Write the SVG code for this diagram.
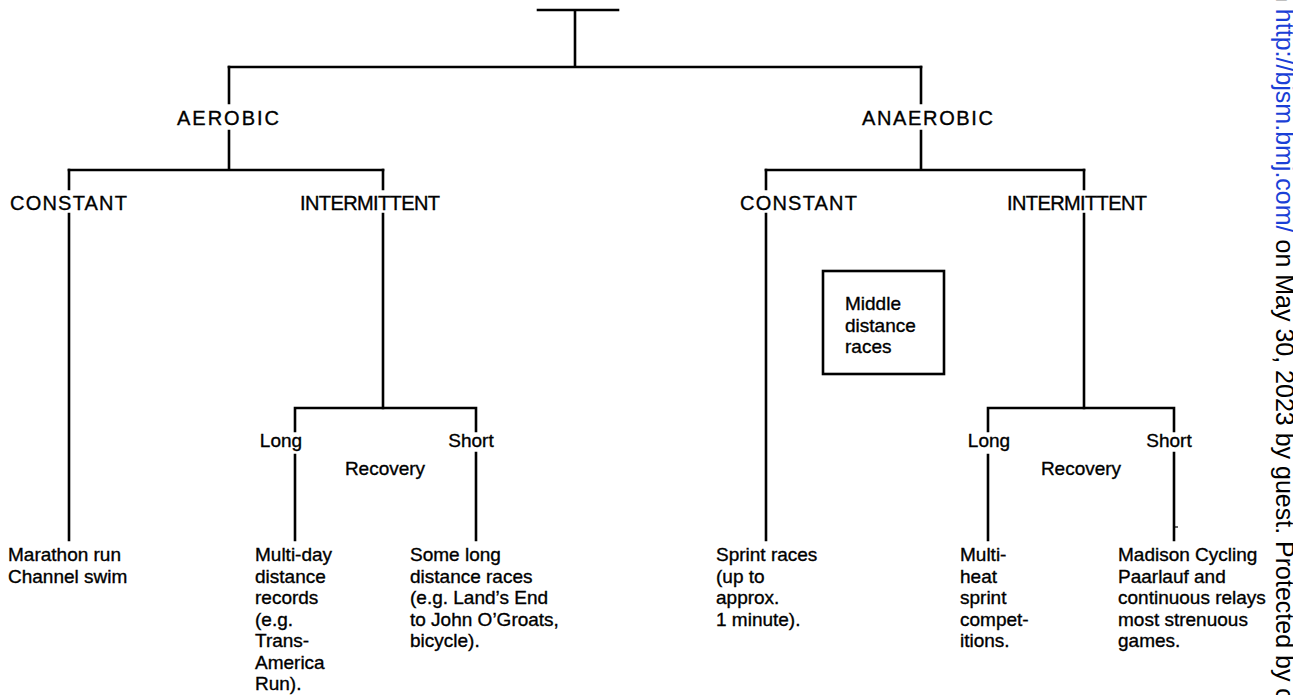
<svg xmlns="http://www.w3.org/2000/svg" width="1293" height="695" viewBox="0 0 1293 695">
<style>
.ln{stroke:#000;stroke-width:2.6;fill:none;stroke-linecap:square}
.hd{font-family:"Liberation Sans",Arial,sans-serif;font-size:20px;fill:#000;stroke:#000;stroke-width:0.35}
.sub{font-family:"Liberation Sans",Arial,sans-serif;font-size:19px;fill:#000;stroke:#000;stroke-width:0.35}
.tx{font-family:"Liberation Sans",Arial,sans-serif;font-size:19px;fill:#000;stroke:#000;stroke-width:0.35}
.wm{font-family:"Liberation Sans",Arial,sans-serif;font-size:25px;fill:#000}
</style>
<rect width="1293" height="695" fill="#fff"/>
<g id="connectors">
<path class="ln" d="M538 10H618M575 10V67M229 67H921"/>
<path class="ln" d="M229 67V103M229 131V170M69 170H383"/>
<path class="ln" d="M69 170V189M69 214V540M383 170V189M383 214V408"/>
<path class="ln" d="M295 408H476M295 408V431M295 455V540M476 408V431M476 453V540"/>
<path class="ln" d="M921 67V103M921 131V170M766 170H1084"/>
<path class="ln" d="M766 170V189M766 214V540M1084 170V189M1084 214V408"/>
<path class="ln" d="M988 408H1174M988 408V431M988 455V540M1174 408V431M1174 453V540"/>
<path d="M1174 527H1178" stroke="#000" stroke-width="1.2"/>
</g>
<g id="aerobic"><text class="hd" x="177" y="125" textLength="102" lengthAdjust="spacing">AEROBIC</text></g>
<g id="anaerobic"><text class="hd" x="862" y="125" textLength="131" lengthAdjust="spacing">ANAEROBIC</text></g>
<g id="aer-constant"><text class="hd" x="10" y="210" textLength="117" lengthAdjust="spacing">CONSTANT</text></g>
<g id="aer-intermittent"><text class="hd" x="300" y="210" textLength="140" lengthAdjust="spacing">INTERMITTENT</text></g>
<g id="ana-constant"><text class="hd" x="740" y="210" textLength="117" lengthAdjust="spacing">CONSTANT</text></g>
<g id="ana-intermittent"><text class="hd" x="1007" y="210" textLength="140" lengthAdjust="spacing">INTERMITTENT</text></g>
<g id="aer-long"><text class="sub" x="281" y="447" text-anchor="middle">Long</text></g>
<g id="aer-short"><text class="sub" x="471" y="447" text-anchor="middle">Short</text></g>
<g id="aer-recovery"><text class="sub" x="385" y="475" text-anchor="middle">Recovery</text></g>
<g id="ana-long"><text class="sub" x="989" y="447" text-anchor="middle">Long</text></g>
<g id="ana-short"><text class="sub" x="1169" y="447" text-anchor="middle">Short</text></g>
<g id="ana-recovery"><text class="sub" x="1081" y="475" text-anchor="middle">Recovery</text></g>
<g id="middle-box">
<rect x="823" y="271" width="121" height="103" fill="none" stroke="#000" stroke-width="2.6"/>
<text class="tx" x="845" y="310">Middle</text>
<text class="tx" x="845" y="332">distance</text>
<text class="tx" x="845" y="353">races</text>
</g>
<g id="marathon">
<text class="tx" x="8" y="561">Marathon run</text>
<text class="tx" x="8" y="583">Channel swim</text>
</g>
<g id="multiday">
<text class="tx" x="255" y="561">Multi-day</text>
<text class="tx" x="255" y="583">distance</text>
<text class="tx" x="255" y="604">records</text>
<text class="tx" x="255" y="626">(e.g.</text>
<text class="tx" x="255" y="647">Trans-</text>
<text class="tx" x="255" y="669">America</text>
<text class="tx" x="255" y="690">Run).</text>
</g>
<g id="somelong">
<text class="tx" x="410" y="561">Some long</text>
<text class="tx" x="410" y="583">distance races</text>
<text class="tx" x="410" y="604">(e.g. Land’s End</text>
<text class="tx" x="410" y="626">to John O’Groats,</text>
<text class="tx" x="410" y="647">bicycle).</text>
</g>
<g id="sprint">
<text class="tx" x="716" y="561">Sprint races</text>
<text class="tx" x="716" y="583">(up to</text>
<text class="tx" x="716" y="604">approx.</text>
<text class="tx" x="716" y="626">1 minute).</text>
</g>
<g id="multiheat">
<text class="tx" x="960" y="561">Multi-</text>
<text class="tx" x="960" y="583">heat</text>
<text class="tx" x="960" y="604">sprint</text>
<text class="tx" x="960" y="626">compet-</text>
<text class="tx" x="960" y="647">itions.</text>
</g>
<g id="madison">
<text class="tx" x="1118" y="561">Madison Cycling</text>
<text class="tx" x="1118" y="583">Paarlauf and</text>
<text class="tx" x="1118" y="604">continuous relays</text>
<text class="tx" x="1118" y="626">most strenuous</text>
<text class="tx" x="1118" y="647">games.</text>
</g>
<g id="watermark">
<text class="wm" transform="translate(1276,-12) rotate(90)">n <tspan fill="#1a3fd6">http://bjsm.bmj.com/</tspan> on May 30, 2023 by guest. Protected by co</text>
</g>
</svg>
